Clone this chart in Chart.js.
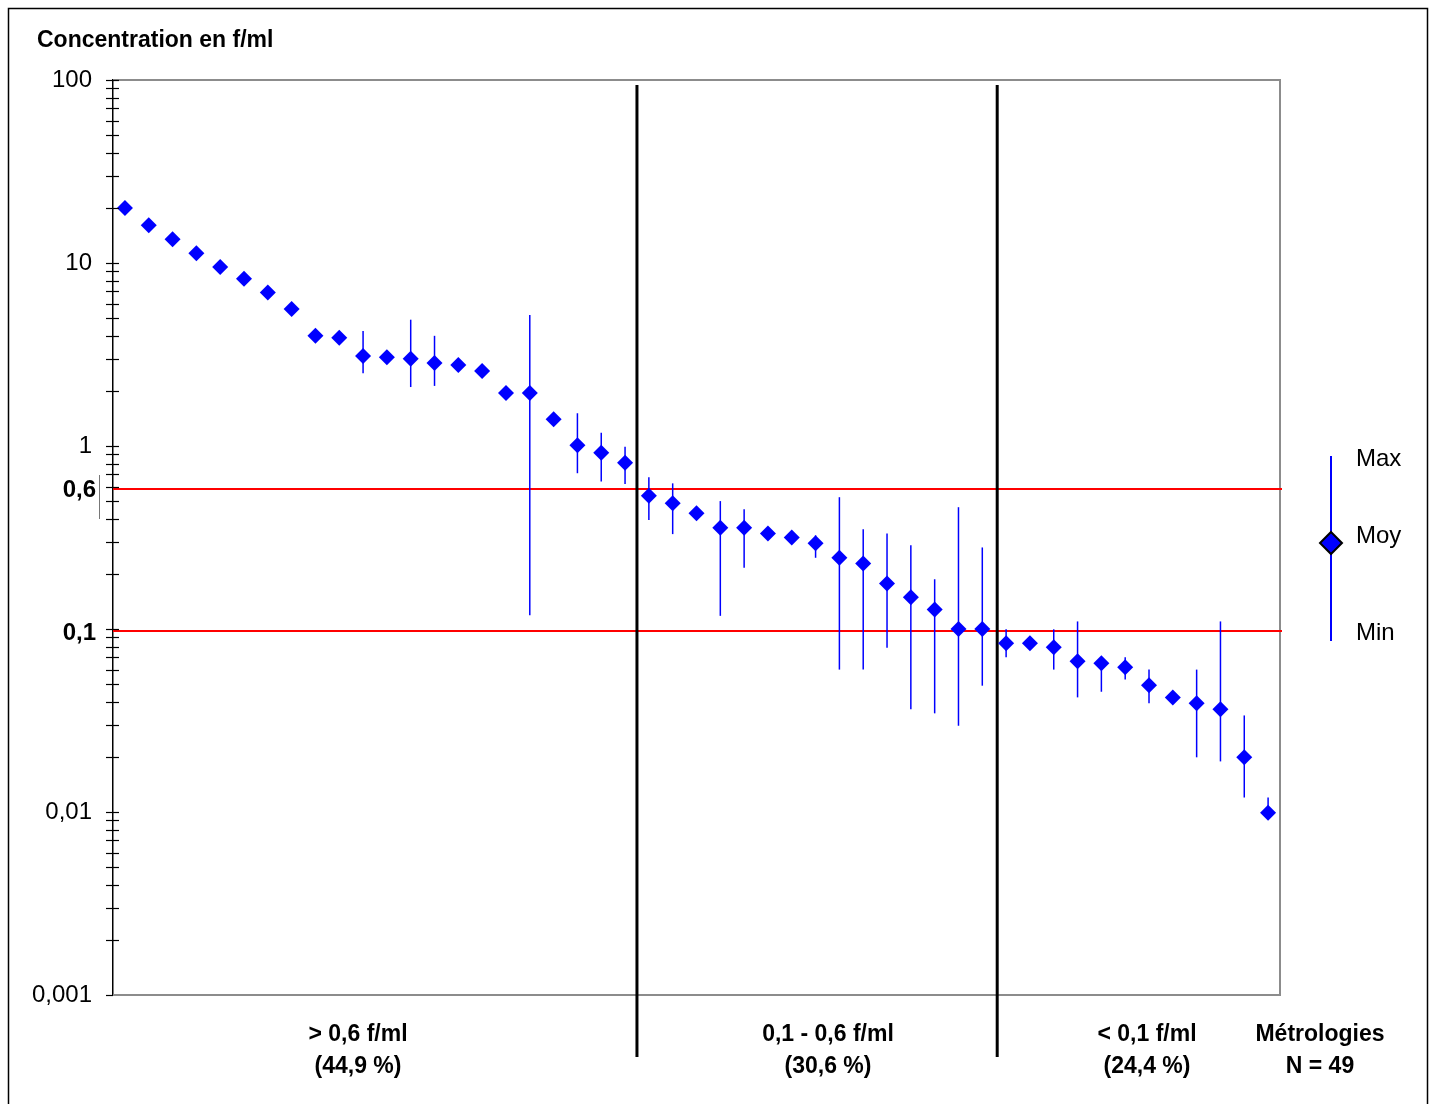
<!DOCTYPE html>
<html><head><meta charset="utf-8">
<script src="https://cdn.jsdelivr.net/npm/chart.js@4.4.1/dist/chart.umd.min.js"></script>
<style>html,body{margin:0;padding:0;background:#fff;}canvas{display:block;}</style>
</head><body>
<canvas id="c" width="1432" height="1104"></canvas>
<script>
// ---- data ----
const categories = ['1','2','3','4','5','6','7','8','9','10','11','12','13','14','15','16','17','18','19','20','21','22','23','24','25','26','27','28','29','30','31','32','33','34','35','36','37','38','39','40','41','42','43','44','45','46','47','48','49'];
const moyValues = [20, 16.1, 13.5, 11.3, 9.5, 8.2, 6.9, 5.6, 4.0, 3.9, 3.1, 3.05, 3.0, 2.84, 2.77, 2.57, 1.95, 1.95, 1.4, 1.01, 0.92, 0.81,
  0.535, 0.486, 0.429, 0.358, 0.358, 0.333, 0.316, 0.294, 0.245, 0.228, 0.177, 0.149, 0.128, 0.1, 0.1,
  0.0835, 0.0835, 0.0794, 0.0666, 0.065, 0.0618, 0.0492, 0.0423, 0.0393, 0.0364, 0.0199, 0.0099];
const maxValues = [null, null, null, null, null, null, null, null, null, null, 4.25, null, 4.9, 4.0, null, null, null, 5.2, null, 1.51, 1.18, 0.99,
  0.675, 0.625, null, 0.50, 0.451, null, null, 0.325, 0.525, 0.351, 0.333, 0.287, 0.187, 0.463, 0.279,
  0.0996, null, 0.0996, 0.110, 0.065, 0.070, 0.060, null, 0.060, 0.110, 0.0337, 0.012];
const minValues = [null, null, null, null, null, null, null, null, null, null, 2.5, null, 2.1, 2.13, null, null, null, 0.119, null, 0.71, 0.64, 0.62,
  0.394, 0.33, null, 0.118, 0.216, null, null, 0.245, 0.060, 0.060, 0.079, 0.0364, 0.0346, 0.0296, 0.049,
  0.070, null, 0.060, 0.0423, 0.0454, 0.053, 0.0393, null, 0.0199, 0.0189, 0.0120, 0.0099];
const thresholds = [0.6, 0.1];
const thresholdLabels = ['0,6', '0,1'];
const groupBoundaries = [22, 37]; // number of points before each vertical separator
const groupLabels = [['> 0,6 f/ml', '(44,9 %)'], ['0,1 - 0,6 f/ml', '(30,6 %)'], ['< 0,1 f/ml', '(24,4 %)'], ['Métrologies', 'N = 49']];
const majorTicks = [100, 10, 1, 0.01, 0.001];
const majorTickLabels = ['100', '10', '1', '0,01', '0,001'];
const minorMultipliers = [1, 2, 3, 4, 5, 6, 7, 8, 9];
const decades = [0.001, 0.01, 0.1, 1, 10];
const titleText = 'Concentration en f/ml';
const legendLabels = ['Max', 'Moy', 'Min'];

const FONT = '"Liberation Sans", Arial, Helvetica, sans-serif';
const BLUE = '#0000ff';

const allTickValues = [];
decades.forEach(d => minorMultipliers.forEach(m => allTickValues.push(+(d * m).toPrecision(3))));
allTickValues.push(100);

const decor = {
  id: 'decor',
  beforeDatasetsDraw(chart) {
    const {ctx, chartArea: a, scales: {x, y}} = chart;
    ctx.save();
    // gray frame top/right/bottom
    ctx.strokeStyle = '#8c8c8c'; ctx.lineWidth = 2;
    ctx.beginPath();
    ctx.moveTo(a.left, a.top); ctx.lineTo(a.right, a.top); ctx.lineTo(a.right, a.bottom); ctx.lineTo(a.left, a.bottom);
    ctx.stroke();
    // red threshold lines
    ctx.strokeStyle = '#ff0000'; ctx.lineWidth = 2;
    thresholds.forEach(t => {
      const py = Math.round(y.getPixelForValue(t)) + 2;
      ctx.beginPath(); ctx.moveTo(a.left, py); ctx.lineTo(a.right + 2, py); ctx.stroke();
    });
    // vertical separators
    ctx.strokeStyle = '#000'; ctx.lineWidth = 3;
    groupBoundaries.forEach((b, i) => {
      const px = (x.getPixelForValue(b - 1) + x.getPixelForValue(b)) / 2 + (i === 1 ? 3 : 0);
      ctx.beginPath(); ctx.moveTo(px, a.top + 5); ctx.lineTo(px, 1057); ctx.stroke();
    });
    // error bars
    ctx.strokeStyle = BLUE; ctx.lineWidth = 1.5;
    categories.forEach((c, i) => {
      const hi = maxValues[i], lo = minValues[i];
      if (hi == null && lo == null) return;
      const px = x.getPixelForValue(i);
      const y1 = y.getPixelForValue(hi == null ? moyValues[i] : hi);
      const y2 = y.getPixelForValue(lo == null ? moyValues[i] : lo);
      ctx.beginPath(); ctx.moveTo(px, y1); ctx.lineTo(px, y2); ctx.stroke();
    });
    ctx.restore();
  },
  afterDraw(chart) {
    const {ctx, chartArea: a, scales: {x, y}} = chart;
    ctx.save();
    // y tick marks crossing the axis
    ctx.strokeStyle = '#000'; ctx.lineWidth = 1.2;
    allTickValues.forEach(v => {
      const py = Math.round(y.getPixelForValue(v)) + 0.5;
      ctx.beginPath(); ctx.moveTo(a.left - 7, py); ctx.lineTo(v === 0.001 ? a.left : a.left + 6, py); ctx.stroke();
    });
    // small mark beside 0,6
    ctx.strokeStyle = '#777'; ctx.lineWidth = 1;
    ctx.beginPath(); ctx.moveTo(99.5, 475); ctx.lineTo(99.5, 519); ctx.stroke();
    ctx.fillStyle = '#000';
    // bold threshold labels on the axis
    ctx.font = 'bold 24px ' + FONT;
    ctx.textAlign = 'right'; ctx.textBaseline = 'middle';
    thresholds.forEach((t, i) => {
      ctx.fillText(thresholdLabels[i], 96, y.getPixelForValue(t) + 4);
    });
    // title
    ctx.font = 'bold 23px ' + FONT;
    ctx.textAlign = 'left';
    ctx.fillText(titleText, 37, 41);
    // group labels
    ctx.textAlign = 'center';
    const centers = [358, 828, 1147, 1320];
    groupLabels.forEach((lines, i) => {
      ctx.fillText(lines[0], centers[i], 1035);
      ctx.fillText(lines[1], centers[i], 1067);
    });
    // legend
    ctx.strokeStyle = BLUE; ctx.lineWidth = 2;
    ctx.beginPath(); ctx.moveTo(1331, 456); ctx.lineTo(1331, 641); ctx.stroke();
    ctx.beginPath();
    ctx.moveTo(1331, 532); ctx.lineTo(1342, 543); ctx.lineTo(1331, 554); ctx.lineTo(1320, 543); ctx.closePath();
    ctx.fillStyle = BLUE; ctx.fill();
    ctx.strokeStyle = '#000'; ctx.lineWidth = 2; ctx.stroke();
    ctx.fillStyle = '#000';
    ctx.font = '24px ' + FONT; ctx.textAlign = 'left';
    ctx.fillText(legendLabels[0], 1356, 459);
    ctx.fillText(legendLabels[1], 1356, 536);
    ctx.fillText(legendLabels[2], 1356, 633);
    // outer border
    ctx.strokeStyle = '#000'; ctx.lineWidth = 1.5;
    ctx.strokeRect(8.5, 8.5, 1419, 1110);
    ctx.restore();
  }
};

new Chart(document.getElementById('c'), {
  type: 'line',
  data: {
    labels: categories,
    datasets: [{
      label: 'Moy',
      data: moyValues,
      showLine: false,
      pointStyle: 'rectRot',
      pointRadius: 8,
      pointBackgroundColor: BLUE,
      pointBorderColor: BLUE,
      pointBorderWidth: 0
    }]
  },
  options: {
    responsive: false,
    animation: false,
    devicePixelRatio: 1,
    layout: {padding: {top: 80, right: 152, bottom: 109, left: 0}},
    plugins: {legend: {display: false}, tooltip: {enabled: false}},
    scales: {
      x: {type: 'category', offset: true, display: false},
      y: {
        type: 'logarithmic', min: 0.001, max: 100,
        afterFit(s) { s.width = 113; },
        afterBuildTicks(s) { s.ticks = allTickValues.map(v => ({value: v})); },
        grid: {display: false, drawTicks: false},
        border: {display: true, color: '#000', width: 1.5},
        ticks: {
          autoSkip: false,
          padding: 21,
          color: '#000',
          font: {family: FONT, size: 24},
          callback: (v) => {
            const idx = majorTicks.findIndex(m => Math.abs(m - v) / m < 1e-6);
            return idx >= 0 ? majorTickLabels[idx] : '';
          }
        }
      }
    }
  },
  plugins: [decor]
});
</script>
</body></html>
